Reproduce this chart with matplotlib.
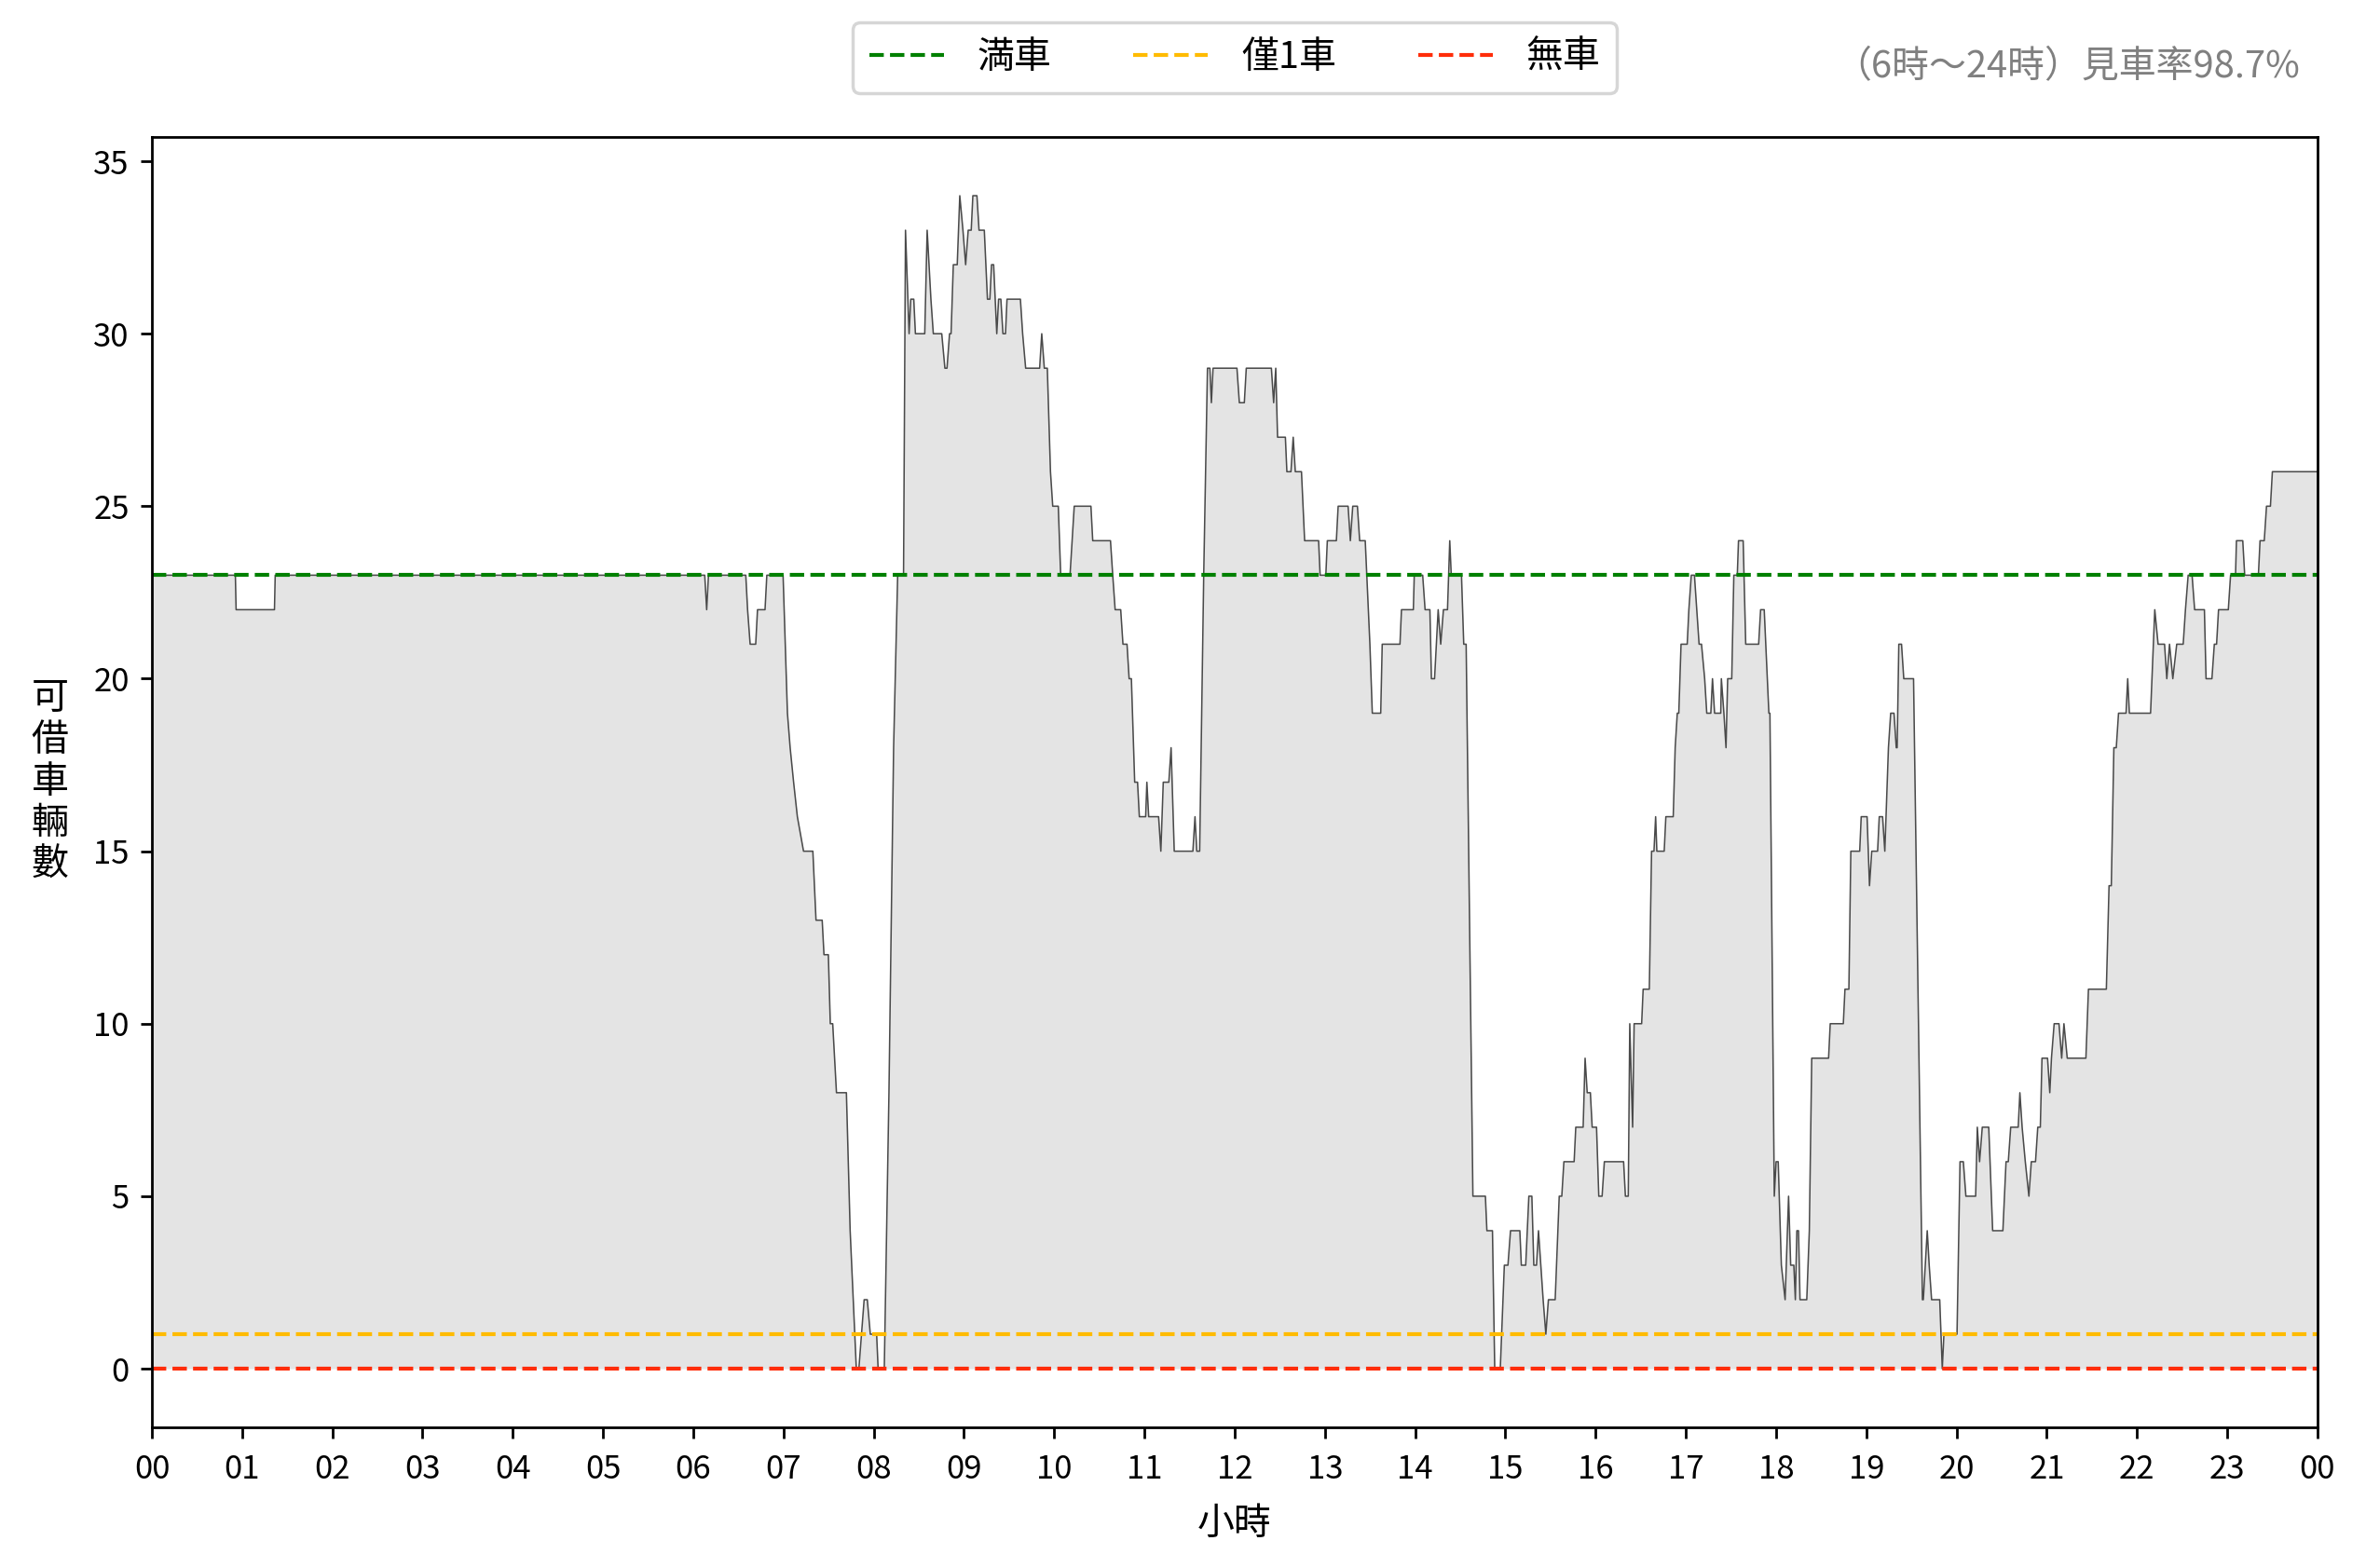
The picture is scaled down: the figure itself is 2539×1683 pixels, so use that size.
import numpy as np
import matplotlib
matplotlib.use("Agg")
import matplotlib.pyplot as plt

plt.rcParams['font.family'] = ['Noto Sans CJK TC', 'DejaVu Sans']

##########################

# minutes after midnight / available bikes
minutes = [
    0, 55.5, 56, 81.5, 82,
    367.6, 368.9, 370.1,
    394.9, 396.1, 397.8, 401.5, 402.7, 407.7, 408.9, 419.7,
    422.6, 424.4, 426.7, 429.2, 433.3, 439.5, 441.6, 445.7, 446.9, 449.8,
    451.1, 452.7, 455.2, 461.8, 464.3, 468.4, 470.1, 473.6, 475.7, 477.7,
    481.9, 482.9, 487.0, 490.1, 493.2, 495.9, 499.8,
    501.1, 503.5, 504.6, 506.6, 507.7, 513.9, 515.5, 518.0, 519.6, 525.2,
    527.3, 528.7, 530.4, 531.4, 532.9, 535.5, 537.2, 539.3, 541.1, 542.8,
    544.8, 545.9, 548.6, 550.0, 553.5, 555.6, 557.2, 558.3, 559.7, 561.8,
    563.0, 564.5, 565.9, 567.6, 568.6, 577.5, 579.0, 581.0, 590.3, 591.7,
    593.4, 595.4, 597.5, 599.0, 602.7, 604.3, 610.5,
    613.3, 624.4, 625.6, 637.4, 638.9, 640.5, 644.2, 645.7, 648.4, 649.8,
    651.3, 653.5, 655.4, 656.6, 660.8, 661.6, 662.8, 669.4, 670.9, 672.5,
    676.2, 677.7, 679.8, 692.2, 693.6, 694.8, 696.7, 699.4, 701.9, 703.5,
    704.5, 705.6, 721.5, 723.1, 726.4, 727.7, 744.4, 745.9, 747.3, 748.5,
    753.7, 754.7, 757.4, 758.9, 760.3, 764.4, 766.5, 775.8, 776.8, 780.6,
    781.6, 787.6, 788.8, 795.4, 796.9, 798.5, 801.6, 803.1, 806.8, 809.9,
    811.5, 817.1, 818.1, 829.9, 830.9, 838.8, 839.4, 845.0, 846.6, 849.8,
    850.8, 852.9, 855.3, 857.0, 858.8, 861.5, 863.0, 864.0, 870.8, 872.3,
    873.9,
    878.4, 886.7, 887.7, 891.4, 892.9, 896.6, 899.3, 901.7, 903.4, 909.6,
    910.6, 913.5, 915.6, 917.6, 918.9, 920.7, 922.0, 925.1, 926.9, 928.6,
    933.1, 935.8, 937.5, 938.9, 945.7, 946.8, 951.7, 953.0, 954.4, 956.5,
    957.7, 960.6, 962.1, 964.3, 965.8, 978.6, 979.8, 981.7, 982.7, 984.6,
    985.6, 990.6, 991.6, 995.7, 997.2, 998.8, 999.9, 1000.7, 1005.6, 1006.7,
    1011.6, 1012.9, 1014.3, 1015.3, 1016.8, 1020.9, 1022.0, 1023.6, 1025.7, 1028.8,
    1030.4, 1032.5, 1033.9, 1036.6, 1037.7, 1039.1, 1043.2, 1043.6, 1045.3, 1046.7,
    1047.8, 1050.5, 1051.9, 1054.2, 1055.0, 1058.1, 1059.8, 1068.4, 1069.7, 1072.1,
    1075.2, 1075.9, 1078.8, 1080.0, 1081.4, 1083.5, 1086.0, 1088.3, 1089.7, 1091.8,
    1092.8, 1093.8, 1094.9, 1095.9, 1100.4, 1102.1, 1103.7,
    1114.9, 1116.0, 1124.7, 1125.8, 1128.4, 1129.7, 1135.6, 1136.6, 1140.5, 1142.1,
    1143.6, 1147.5, 1148.6, 1150.8, 1152.3, 1154.7, 1156.2, 1158.4, 1159.9, 1160.5,
    1161.6, 1163.4, 1164.9, 1171.4, 1177.3, 1177.9, 1180.5, 1181.8, 1183.4, 1188.8,
    1190.5, 1191.6, 1200.3, 1202.3, 1204.5, 1206.2, 1212.7, 1213.8, 1215.3, 1217.1,
    1221.4, 1224.0, 1230.8, 1232.9, 1234.4, 1236.0, 1241.0, 1242.1, 1243.6, 1245.7,
    1248.1, 1249.7, 1252.5, 1254.0, 1255.7, 1256.8, 1260.5, 1262.0, 1263.1, 1264.9,
    1268.1, 1269.9, 1271.4, 1273.6, 1286.0, 1287.7, 1299.6, 1301.4, 1302.9, 1304.6,
    1306.2, 1307.7, 1312.7, 1313.8, 1314.9, 1329.0, 1331.8, 1334.0, 1338.3, 1339.8,
    1341.6, 1343.8, 1346.4, 1350.7, 1352.2, 1354.0, 1356.6, 1358.3, 1364.8, 1365.9,
    1369.8, 1371.4, 1372.9, 1374.2, 1380.7, 1382.2, 1385.5, 1386.1, 1390.3, 1391.6,
    1400.7, 1401.8, 1404.6, 1406.1, 1408.7, 1410.0, 1440,
]
bikes = [
    23, 23, 22, 22, 23,
    23, 22, 23,
    23, 22, 21, 21, 22, 22, 23, 23,
    19, 18, 17, 16, 15, 15, 13, 13, 12, 12,
    10, 10, 8, 8, 4, 0, 0, 2, 2, 1,
    1, 0, 0, 8, 18, 23, 23,
    33, 30, 31, 31, 30, 30, 33, 31, 30, 30,
    29, 29, 30, 30, 32, 32, 34, 33, 32, 33,
    33, 34, 34, 33, 33, 31, 31, 32, 32, 30,
    31, 31, 30, 30, 31, 31, 30, 29, 29, 30,
    29, 29, 26, 25, 25, 23, 23,
    25, 25, 24, 24, 23, 22, 22, 21, 21, 20,
    20, 17, 17, 16, 16, 17, 16, 16, 15, 17,
    17, 18, 15, 15, 16, 15, 15, 23, 29, 29,
    28, 29, 29, 28, 28, 29, 29, 28, 29, 27,
    27, 26, 26, 27, 26, 26, 24, 24, 23, 23,
    24, 24, 25, 25, 24, 25, 25, 24, 24, 21,
    19, 19, 21, 21, 22, 22, 23, 23, 22, 22,
    20, 20, 22, 21, 22, 22, 24, 23, 23, 21,
    21,
    5, 5, 4, 4, 0, 0, 3, 3, 4, 4,
    3, 3, 5, 5, 3, 3, 4, 2, 1, 2,
    2, 5, 5, 6, 6, 7, 7, 9, 8, 8,
    7, 7, 5, 5, 6, 6, 5, 5, 10, 7,
    10, 10, 11, 11, 15, 15, 16, 15, 15, 16,
    16, 18, 19, 19, 21, 21, 22, 23, 23, 21,
    21, 20, 19, 19, 20, 19, 19, 20, 19, 18,
    20, 20, 23, 23, 24, 24, 21, 21, 22, 22,
    19, 19, 5, 6, 6, 3, 2, 5, 3, 3,
    2, 4, 4, 2, 2, 4, 9,
    9, 10, 10, 11, 11, 15, 15, 16, 16, 14,
    15, 15, 16, 16, 15, 18, 19, 19, 18, 18,
    21, 21, 20, 20, 2, 2, 4, 3, 2, 2,
    0, 1, 1, 6, 6, 5, 5, 7, 6, 7,
    7, 4, 4, 6, 6, 7, 7, 8, 7, 6,
    5, 6, 6, 7, 7, 9, 9, 8, 9, 10,
    10, 9, 10, 9, 9, 11, 11, 14, 14, 18,
    18, 19, 19, 20, 19, 19, 22, 21, 21, 20,
    21, 20, 21, 21, 22, 23, 23, 22, 22, 20,
    20, 21, 21, 22, 22, 23, 23, 24, 24, 23,
    23, 24, 24, 25, 25, 26, 26,
]

full_level = 23
one_level = 1
empty_level = 0

hour_labels = ["%02d" % h for h in range(24)] + ["00"]
rate_text = "（6時～24時）見車率98.7%"

##########################

x = np.array(minutes) / 60.0
y = np.array(bikes)

fig = plt.figure(figsize=(2539 / 250, 1683 / 250), dpi=250)
ax = fig.add_axes([0.0642, 0.0897, 0.9153, 0.8229])

ax.fill_between(x, y, 0, color="#e4e4e4", linewidth=0)
ax.plot(x, y, color="#4a4a4a", linewidth=0.45)

ax.axhline(full_level, color="#008000", linestyle="--", linewidth=1.2, label="満車")
ax.axhline(one_level, color="#ffbb00", linestyle="--", linewidth=1.2, label="僅1車")
ax.axhline(empty_level, color="#ff2d0a", linestyle="--", linewidth=1.2, label="無車")

ax.set_xlim(0, 24)
ax.set_ylim(-1.7, 35.7)
ax.set_xticks(np.arange(25))
ax.set_xticklabels(hour_labels)
ax.set_yticks(np.arange(0, 36, 5))
ax.tick_params(labelsize=10)
ax.tick_params(axis="x", pad=4.5)

ax.set_xlabel("小時", fontsize=11.5, labelpad=6)
ax.set_ylabel("\n".join("可借車輛數"), rotation=0, fontsize=11.5, linespacing=1.15,
              va="center", ha="center")
ax.yaxis.set_label_coords(-0.047, 0.5)

ax.legend(loc="lower center", bbox_to_anchor=(0.5, 1.034), ncol=3, fontsize=11.5,
          frameon=True, edgecolor="#cccccc", borderpad=0.45, borderaxespad=0,
          columnspacing=2.2, handletextpad=0.9)

fig.text(0.972, 0.957, rate_text, ha="right", va="center", fontsize=11.5, color="gray")

plt.savefig("out.png", dpi=250)
plt.close()
